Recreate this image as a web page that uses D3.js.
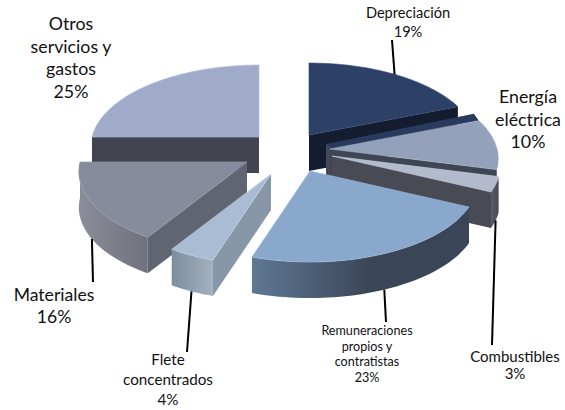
<!DOCTYPE html>
<html><head><meta charset="utf-8">
<style>html,body{margin:0;background:#fff}svg{display:block}text{font-family:Lato,"Noto Sans",sans-serif;fill:#111}</style>
<script src="https://cdn.jsdelivr.net/npm/d3@7/dist/d3.min.js"></script></head>
<body><svg id="c" width="565" height="410"></svg>
<script>
const categories = ["Depreciación","Energía eléctrica","Combustibles","Remuneraciones propios y contratistas","Flete concentrados","Materiales","Otros servicios y gastos"];
const shares = [19,10,3,23,4,16,25];
const labelLines = [["Depreciación","19%"],["Energía","eléctrica","10%"],["Combustibles","3%"],["Remuneraciones","propios y","contratistas","23%"],["Flete","concentrados","4%"],["Materiales","16%"],["Otros","servicios y","gastos","25%"]];
const labelCentreX = [408,528,515,367,168,54,71];
const labelFirstBaseline = [18,103,362,335,365,301,30];
const labelLineStep = [19,22.5,17,15.5,20,22,22.5];
const labelFontPx = [14.6,17.8,15,12.6,15.2,17.6,17.8];
const sliceApex = [[309,135],[330,149],[332,156],[310,171],[271,174],[247,162],[259,137]];
const leaderEnd = [[392,40],null,[492,345],[386,322],[187,352],[93,282],null];
const topColors = ["#2d4167","#94a1bb","#b3bacb","#8aa8cc","#a9bcd3","#868c9b","#9fabc9"];
const cutColors = ["#141c30","#3e4654","#484b54","#3a4657","#8797a8","#5f6672","#42454f"];
const arcFrom = ["#141c30","#3e4654","#5a5d66","#5f7894","#7d8d9e","#8b8e9a","#42454f"];
const arcTo = ["#141c30","#3e4654","#484b54","#3a4657","#a3b1c0","#6f717c","#42454f"];
const paintOrder = [6,0,1,2,5,3,4];

const rx=167,ry=80.4,persp=0.117,depth=36;
const svg=d3.select("#c"), defs=svg.append("defs");
const arcs=d3.pie().sort(null).value(d=>d).startAngle(0).endAngle(2*Math.PI)(shares);
const project=a=>{const u=-Math.cos(a),s=1/(1-persp*u);return [rx*Math.sin(a)*s,ry*u*s];};
const line=d3.line();
function sweep(a0,a1){const n=Math.max(4,Math.ceil((a1-a0)/0.03));return d3.range(n+1).map(i=>a0+(a1-a0)*i/n);}
const geo=arcs.map((d,i)=>({i,a0:d.startAngle,a1:d.endAngle,mid:(d.startAngle+d.endAngle)/2,ax:sliceApex[i][0],ay:sliceApex[i][1]}));
const P=(g,a,dz=0)=>{const p=project(a);return [g.ax+p[0],g.ay+p[1]+dz];};
function wall(g,a){const A=[g.ax,g.ay],B=P(g,a);return [A,B,[B[0],B[1]+depth],[A[0],A[1]+depth]];}
function visibleArc(g){const a0=Math.max(g.a0,Math.PI/2),a1=Math.min(g.a1,3*Math.PI/2);return a1>a0?[a0,a1]:null;}

paintOrder.forEach(i=>{const g=geo[i],G=svg.append("g").attr("data-cat",categories[i]);
 // thin lip on the far edge of the energy slice
 if(i===1){const A=[g.ax,g.ay],B=P(g,g.a0);G.append("path").attr("fill","#2a3a5c").attr("d",line([[A[0]-4,A[1]-5],[B[0]-5,B[1]-7],B,A])+"Z");
   G.append("path").attr("fill","#444a55").attr("d",line([[A[0]-4,A[1]-5],[A[0]+2,A[1]],[A[0]+2,A[1]+depth-6],[A[0]-4,A[1]+depth-6]])+"Z");}
 // cut faces facing the viewer
 const cutA=(i===5||i===4||i===6)?g.a0:g.a1;
 if(i!==3) G.append("path").attr("fill",cutColors[i]).attr("d",line(wall(g,cutA))+"Z");
 // outer rim
 const v=visibleArc(g);
 if(v){const pts=sweep(v[0],v[1]),up=pts.map(a=>P(g,a)),dn=pts.map(a=>P(g,a,depth)).reverse();
  const x0=d3.min(up,p=>p[0]),x1=d3.max(up,p=>p[0]);
  const gr=defs.append("linearGradient").attr("id","rim"+i).attr("gradientUnits","userSpaceOnUse").attr("x1",x0).attr("x2",x1).attr("y1",0).attr("y2",0);
  gr.append("stop").attr("offset",0).attr("stop-color",arcFrom[i]);
  gr.append("stop").attr("offset",i===3?0.55:1).attr("stop-color",arcTo[i]);
  G.append("path").attr("fill",`url(#rim${i})`).attr("d",line(up.concat(dn))+"Z");}
 // top face
 const rim=sweep(g.a0,g.a1).map(a=>P(g,a));
 G.append("path").attr("fill",topColors[i]).attr("stroke",d3.color(topColors[i]).brighter(0.3)).attr("stroke-width",0.6).attr("d",line([[g.ax,g.ay]].concat(rim))+"Z");
});

// leaders
geo.forEach(g=>{const end=leaderEnd[g.i];if(!end)return;
 const a=P(g,g.mid,g.mid>Math.PI/2&&g.mid<3*Math.PI/2?depth:0);
 svg.append("line").attr("x1",a[0]).attr("y1",a[1]).attr("x2",end[0]).attr("y2",end[1]).attr("stroke","#000").attr("stroke-width",2);});

// labels
labelLines.forEach((ls,i)=>{const t=svg.append("text").attr("text-anchor","middle").style("font-size",labelFontPx[i]+"px");
 ls.forEach((s,k)=>t.append("tspan").attr("x",labelCentreX[i]).attr("y",labelFirstBaseline[i]+k*labelLineStep[i]).text(s));});
</script></body></html>
